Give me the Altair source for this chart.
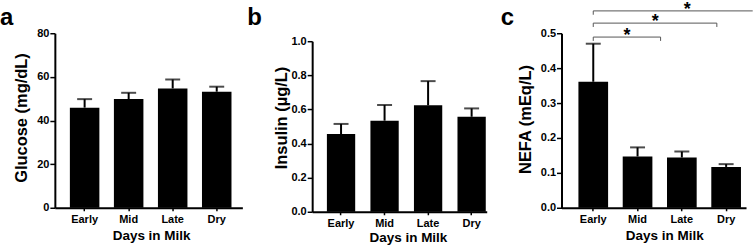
import altair as alt
import pandas as pd

categories = ["Early", "Mid", "Late", "Dry"]
glucose_mean = [45.9, 49.8, 54.7, 53.2]
glucose_upper = [49.8, 52.7, 58.8, 55.5]
insulin_mean = [0.456, 0.534, 0.624, 0.557]
insulin_upper = [0.515, 0.626, 0.766, 0.606]
nefa_mean = [0.361, 0.147, 0.144, 0.117]
nefa_upper = [0.470, 0.173, 0.161, 0.125]

glucose_ticks = [0, 20, 40, 60, 80]
insulin_ticks = [0.0, 0.2, 0.4, 0.6, 0.8, 1.0]
nefa_ticks = [0.0, 0.1, 0.2, 0.3, 0.4, 0.5]

# significance brackets (panel c), x in category-index units (0 = Early);
# the widest bracket runs past the right edge of the figure
bracket_start = [0.0, 0.0, 0.0]
bracket_end = [1.52, 2.79, 3.6]
bracket_right_end_visible = [True, True, False]
bracket_level = [0.489, 0.529, 0.564]
star_pos = [0.76, 1.40, 2.12]
bracket_label = ["*", "*", "*"]

panel_letters = ["a", "b", "c"]
x_title = "Days in Milk"
y_titles = ["Glucose (mg/dL)", "Insulin (\u00b5g/L)", "NEFA (mEq/L)"]

FONT = "Liberation Sans"


def panel(mean, upper, ticks, fmt, ytitle, letter, pin, pout, align,
          xrange=None, yrange=None, ytitle_x=-28, ytitle_y=85,
          xtitle_x=96, xtitle_y=32, letter_x=-55):
    df = pd.DataFrame({"cat": categories, "mean": mean, "upper": upper})
    xscale = dict(domain=categories, paddingInner=pin, paddingOuter=pout, align=align)
    if xrange is not None:
        xscale["range"] = xrange
    yscale = dict(domain=[ticks[0], ticks[-1]], nice=False)
    if yrange is not None:
        yscale["range"] = yrange
    x = alt.X("cat:N", sort=categories, scale=alt.Scale(**xscale),
              axis=alt.Axis(title=x_title, labelAngle=0, tickSize=3, tickWidth=1.5,
                            labelPadding=3, titleX=xtitle_x, titleY=xtitle_y,
                            titleAlign="center", titleBaseline="alphabetic",
                            titleFontSize=13.5))
    y_axis = alt.Axis(title=ytitle, values=ticks, format=fmt, tickSize=5, tickWidth=1.5,
                      labelPadding=1, titleX=ytitle_x, titleY=ytitle_y, titleAngle=-90,
                      titleAlign="center", titleBaseline="alphabetic", titleFontSize=16.5)
    base = alt.Chart(df)
    bars = base.mark_bar(color="black").encode(
        x=x, y=alt.Y("mean:Q", scale=alt.Scale(**yscale), axis=y_axis))
    err = base.mark_rule(color="black", strokeWidth=2).encode(
        x=x, y=alt.Y("mean:Q", scale=alt.Scale(**yscale), axis=y_axis), y2="upper:Q")
    cap = base.mark_tick(color="black", thickness=2, size=15).encode(
        x=x, y=alt.Y("upper:Q", scale=alt.Scale(**yscale), axis=y_axis))
    main = alt.layer(bars, err, cap)
    lab = alt.Chart(pd.DataFrame({"t": [letter]})).mark_text(
        font=FONT, fontSize=24, fontWeight="bold", align="left", baseline="alphabetic",
        color="black").encode(text="t:N", x=alt.value(letter_x), y=alt.value(-8))
    return main, lab, yscale, y_axis


ma, la, _, _ = panel(glucose_mean, glucose_upper, glucose_ticks, "d", y_titles[0],
                     panel_letters[0], 0.33, 0.294, 0.58,
                     ytitle_x=-28, ytitle_y=84.5, xtitle_x=96.5, xtitle_y=32, letter_x=-55)
pa = alt.layer(ma, la).properties(width=188, height=175)

mb, lb, _, _ = panel(insulin_mean, insulin_upper, insulin_ticks, ".1f", y_titles[1],
                     panel_letters[1], 0.35, 0.18, 0.94,
                     xrange=[0, 175], yrange=[179, 8],
                     ytitle_x=-26, ytitle_y=84.5, xtitle_x=96, xtitle_y=30, letter_x=-65)
pb = alt.layer(mb, lb).properties(width=180, height=179)

PIN_C, POUT_C, AL_C = 0.33, 0.248, 0.77
mc, lc, ysc, yax = panel(nefa_mean, nefa_upper, nefa_ticks, ".1f", y_titles[2],
                         panel_letters[2], PIN_C, POUT_C, AL_C,
                         ytitle_x=-31, ytitle_y=86, xtitle_x=103, xtitle_y=32, letter_x=-61)
# quantitative index scale aligned with the band-scale centres (0 = Early centre)
n = len(categories)
off = 2 * POUT_C * AL_C + (1 - PIN_C) / 2
idx_domain = [-off, n - PIN_C + 2 * POUT_C - off]

bdf = pd.DataFrame({"start": bracket_start, "end": bracket_end, "level": bracket_level,
                    "star": star_pos, "label": bracket_label,
                    "rvis": bracket_right_end_visible})
bdf["drop"] = bdf["level"] - 0.011
bx = lambda f: alt.X(f, scale=alt.Scale(domain=idx_domain, nice=False, zero=False), axis=None)
by = lambda f: alt.Y(f, scale=alt.Scale(**ysc), axis=yax)
bbase = alt.Chart(bdf)
bh = bbase.mark_rule(color="#555555", strokeWidth=1).encode(
    x=bx("start:Q"), x2="end:Q", y=by("level:Q"))
bl = bbase.mark_rule(color="#555555", strokeWidth=1).encode(
    x=bx("start:Q"), y=by("level:Q"), y2="drop:Q")
br = bbase.transform_filter("datum.rvis").mark_rule(color="#555555", strokeWidth=1).encode(
    x=bx("end:Q"), y=by("level:Q"), y2="drop:Q")
stars = bbase.mark_text(font=FONT, fontSize=18, fontWeight="bold", color="black",
                        baseline="alphabetic", dy=4).encode(
    x=bx("star:Q"), y=by("level:Q"), text="label:N")
brackets = alt.layer(bh, bl, br, stars)
pc = alt.layer(mc, brackets, lc).resolve_scale(x="independent").properties(width=185, height=175)

chart = alt.hconcat(pa, pb, pc, spacing=70, bounds="flush").properties(
    padding=0, background="white"
).configure_view(stroke=None).configure_axis(
    grid=False, domainColor="black", domainWidth=2, tickColor="black",
    labelFont=FONT, labelFontWeight="bold", labelFontSize=11, labelColor="black",
    titleFont=FONT, titleFontWeight="bold", titleColor="black"
)

chart.save("out.html", embed_options={"renderer": "svg", "actions": False})
